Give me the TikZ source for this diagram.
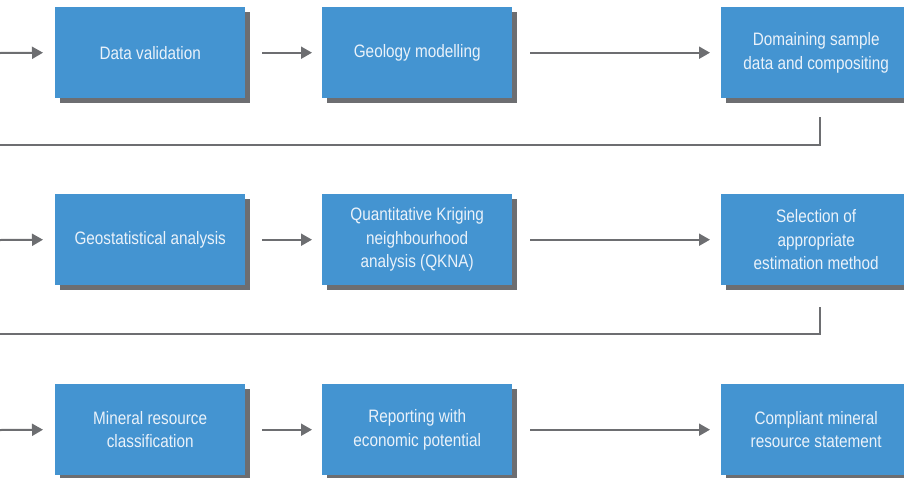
\documentclass[tikz,border=0pt]{standalone}
\usepackage{fontspec}
\setmainfont[FakeStretch=0.85]{Liberation Sans}
\usetikzlibrary{arrows.meta}
\definecolor{boxblue}{HTML}{4494D1}
\definecolor{shadowgray}{HTML}{6D6E71}
\definecolor{txtcol}{HTML}{EAF2FA}
\begin{document}
\begin{tikzpicture}[x=1pt,y=-1pt,
  stepbox/.style={fill=boxblue, minimum width=190pt, minimum height=91pt, inner sep=0pt,
    text=txtcol, font=\fontsize{18}{23.5}\selectfont, align=center, anchor=north west},
  conn/.style={draw=shadowgray, line width=2pt},
  arr/.style={conn, -{Triangle[length=11pt,width=12pt]}}]
\useasboundingbox (0,0) rectangle (904,477);
\clip (0,0) rectangle (904,477);
% shadows
\foreach \x/\y in {55/7,322/7,721/7,55/194,322/194,721/194,55/384,322/384,721/384}
  \fill[shadowgray] (\x+5,\y+5) rectangle (\x+195,\y+96);
\node[stepbox] (b1) at (55,7) {Data validation};
\node[stepbox] (b2) at (322,7) {Geology modelling};
\node[stepbox] (b3) at (721,7) {Domaining sample\\data and compositing};
\node[stepbox] (b4) at (55,194) {Geostatistical analysis};
\node[stepbox] (b5) at (322,194) {Quantitative Kriging\\neighbourhood\\analysis (QKNA)};
\node[stepbox] (b6) at (721,194) {Selection of\\appropriate\\estimation method};
\node[stepbox] (b7) at (55,384) {Mineral resource\\classification};
\node[stepbox] (b8) at (322,384) {Reporting with\\economic potential};
\node[stepbox] (b9) at (721,384) {Compliant mineral\\resource statement};
% free ends
\coordinate (s1) at (0,53);
\coordinate (s4) at (0,240);
\coordinate (s7) at (0,430);
\coordinate (d3a) at (820,117);
\coordinate (d3b) at (820,145);
\coordinate (d3c) at (0,145);
\coordinate (d6a) at (820,307);
\coordinate (d6b) at (820,334);
\coordinate (d6c) at (0,334);
% arrows
\draw[arr] (s1) -- ([xshift=-12pt]b1.west);
\draw[arr] ([xshift=17pt]b1.east) -- ([xshift=-10pt]b2.west);
\draw[arr] ([xshift=18pt]b2.east) -- ([xshift=-11pt]b3.west);
\draw[arr] (s4) -- ([xshift=-12pt]b4.west);
\draw[arr] ([xshift=17pt]b4.east) -- ([xshift=-10pt]b5.west);
\draw[arr] ([xshift=18pt]b5.east) -- ([xshift=-11pt]b6.west);
\draw[arr] (s7) -- ([xshift=-12pt]b7.west);
\draw[arr] ([xshift=17pt]b7.east) -- ([xshift=-10pt]b8.west);
\draw[arr] ([xshift=18pt]b8.east) -- ([xshift=-11pt]b9.west);
\draw[conn] (d3a) -- (d3b) -- (d3c);
\draw[conn] (d6a) -- (d6b) -- (d6c);
\end{tikzpicture}
\end{document}
